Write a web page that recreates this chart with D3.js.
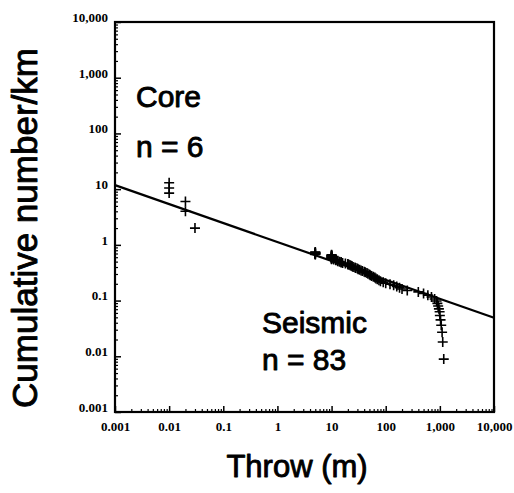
<!DOCTYPE html>
<html>
<head>
<meta charset="utf-8">
<script src="https://cdn.jsdelivr.net/npm/d3@7"></script>
<style>
  html, body { margin: 0; padding: 0; background: #fff; }
  svg { display: block; }
</style>
</head>
<body>
<svg id="chart" width="514" height="493"></svg>
<script>
// Fault throw population: cumulative number of faults per km vs. throw
const coreThrow = [0.01, 0.01, 0.01, 0.02, 0.02, 0.03];
const coreCumulative = [13, 10.5, 8.5, 6, 4, 2];

const seismicThrow = [
  5, 5, 5, 5, 5, 5, 5, 5, 5,
  10, 10, 10, 10, 10, 10, 10, 10, 10, 10, 10, 10, 10,
  11, 12, 12, 13, 13, 14, 15, 15, 16, 18,
  20, 20, 21, 22, 23, 24, 25, 27, 28, 30,
  31, 33, 35, 37, 40, 42, 45, 47, 50, 52,
  55, 59, 63, 66, 70, 75, 80, 90, 100, 120,
  140, 160, 180, 200, 250, 400, 500, 600, 700, 800,
  870, 900, 930, 960, 990, 1000, 1030, 1060, 1100, 1130,
  1180
];
const seismicCumulative = [
  0.741, 0.732, 0.723, 0.714, 0.705, 0.696, 0.688, 0.679, 0.670,
  0.661, 0.652, 0.643, 0.634, 0.625, 0.616, 0.607, 0.598, 0.589, 0.580, 0.571, 0.563, 0.554,
  0.545, 0.536, 0.527, 0.518, 0.509, 0.500, 0.491, 0.482, 0.473, 0.464,
  0.455, 0.446, 0.438, 0.429, 0.420, 0.411, 0.402, 0.393, 0.384, 0.375,
  0.366, 0.357, 0.348, 0.339, 0.330, 0.321, 0.313, 0.304, 0.295, 0.286,
  0.277, 0.268, 0.259, 0.250, 0.241, 0.232, 0.223, 0.214, 0.205, 0.196,
  0.188, 0.179, 0.170, 0.161, 0.152, 0.143, 0.134, 0.125, 0.116, 0.107,
  0.098, 0.089, 0.080, 0.071, 0.063, 0.054, 0.045, 0.036, 0.027, 0.018,
  0.0089
];

// Power-law fit, given by its two end points
const fitThrow = [0.001, 10000];
const fitCumulative = [11.8, 0.049];

const tickValues = [0.001, 0.01, 0.1, 1, 10, 100, 1000, 10000];
const tickLabels = ["0.001", "0.01", "0.1", "1", "10", "100", "1,000", "10,000"];

const svg = d3.select("#chart");
const plotLeft = 115, plotRight = 494, plotTop = 22, plotBottom = 412;

const x = d3.scaleLog().domain([0.001, 10000]).range([plotLeft, plotRight]);
const y = d3.scaleLog().domain([0.001, 10000]).range([plotBottom, plotTop]);

const labelOf = v => tickLabels[tickValues.indexOf(v)];
const minorX = x.ticks().filter(v => !tickValues.includes(v));
const minorY = y.ticks().filter(v => !tickValues.includes(v));

const serif = "'Liberation Serif', 'Times New Roman', serif";
const sans = "'Liberation Sans', Arial, Helvetica, sans-serif";

// Minor ticks (inward)
svg.append("g").attr("transform", `translate(0,${plotBottom})`)
  .call(d3.axisBottom(x).tickValues(minorX).tickSize(-3).tickFormat(""))
  .call(g => g.select(".domain").remove())
  .call(g => g.selectAll("line").attr("stroke", "#000").attr("stroke-width", 1.2));
svg.append("g").attr("transform", `translate(${plotLeft},0)`)
  .call(d3.axisLeft(y).tickValues(minorY).tickSize(-3).tickFormat(""))
  .call(g => g.select(".domain").remove())
  .call(g => g.selectAll("line").attr("stroke", "#000").attr("stroke-width", 1.2));

// Major ticks with labels
svg.append("g").attr("transform", `translate(0,${plotBottom})`)
  .call(d3.axisBottom(x).tickValues(tickValues).tickSize(-6).tickPadding(10).tickFormat(labelOf))
  .call(g => g.select(".domain").remove())
  .call(g => g.selectAll("line").attr("stroke", "#000").attr("stroke-width", 1.5))
  .call(g => g.selectAll("text").attr("font-family", serif).attr("font-weight", "bold")
    .attr("font-size", 13).attr("fill", "#000"));
svg.append("g").attr("transform", `translate(${plotLeft},0)`)
  .call(d3.axisLeft(y).tickValues(tickValues).tickSize(-6).tickPadding(7).tickFormat(labelOf))
  .call(g => g.select(".domain").remove())
  .call(g => g.selectAll("line").attr("stroke", "#000").attr("stroke-width", 1.5))
  .call(g => g.selectAll("text").attr("font-family", serif).attr("font-weight", "bold")
    .attr("font-size", 13).attr("fill", "#000").attr("dy", "-0.05em"));

// Plot frame
svg.append("rect")
  .attr("x", plotLeft).attr("y", plotTop)
  .attr("width", plotRight - plotLeft).attr("height", plotBottom - plotTop)
  .attr("fill", "none").attr("stroke", "#000").attr("stroke-width", 2.2);

// Fit line
const fitData = fitThrow.map((t, i) => [t, fitCumulative[i]]);
svg.append("path")
  .datum(fitData)
  .attr("d", d3.line().x(d => x(d[0])).y(d => y(d[1])))
  .attr("fill", "none").attr("stroke", "#000").attr("stroke-width", 2.2);

// Data points drawn as crosses
function plotCrosses(xs, ys) {
  const pts = xs.map((t, i) => [t, ys[i]]);
  svg.append("g").selectAll("path").data(pts).join("path")
    .attr("transform", d => `translate(${x(d[0])},${y(d[1])})`)
    .attr("d", "M-5,0H5M0,-5V5")
    .attr("stroke", "#000").attr("stroke-width", 1.6).attr("fill", "none");
}
plotCrosses(coreThrow, coreCumulative);
plotCrosses(seismicThrow, seismicCumulative);

// Annotations (heavy sans, as in print)
const heavy = sel => sel.attr("font-family", sans).attr("fill", "#000")
  .attr("stroke", "#000").attr("stroke-width", 0.9).attr("stroke-linejoin", "round");
const note = (txt, px, py) => svg.append("text")
  .attr("x", px).attr("y", py).text(txt)
  .attr("font-size", 30).call(heavy);
note("Core", 136, 107);
note("n = 6", 136, 157);
note("Seismic", 262, 333);
note("n = 83", 262, 370);

// Axis titles
svg.append("text")
  .attr("x", 297).attr("y", 477)
  .attr("text-anchor", "middle")
  .attr("font-size", 31).call(heavy)
  .text("Throw (m)");
svg.append("text")
  .attr("transform", `translate(37,${(plotTop + plotBottom) / 2 + 11}) rotate(-90)`)
  .attr("text-anchor", "middle")
  .attr("font-size", 35).call(heavy)
  .text("Cumulative number/km");
</script>
</body>
</html>
